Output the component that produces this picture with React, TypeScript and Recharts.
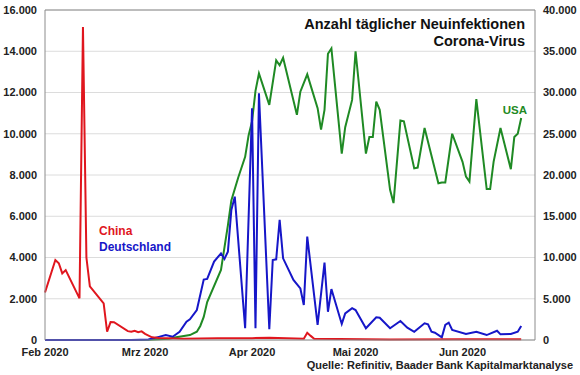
import React from "react";
import {
  LineChart,
  Line,
  XAxis,
  YAxis,
  CartesianGrid,
  ReferenceLine,
} from "recharts";

// day index 0 = 1. Feb 2020; values at line vertices
const chinaPts: [number, number][] = [
  [0, 2300], [3, 3880], [4, 3720], [5, 3230], [6, 3390], [10, 2020],
  [11, 15170], [12, 4000], [13, 2600], [17, 1780], [18, 400], [19, 870],
  [20, 860], [24, 430], [25, 400], [26, 450], [27, 380], [28, 420],
  [29, 300], [31, 130], [33, 100], [40, 60], [50, 80], [60, 90], [65, 110],
  [70, 80], [75, 60], [76, 350], [77, 200], [78, 60], [100, 30], [120, 40],
  [138, 40],
];

const germanyPts: [number, number][] = [
  [0, 0], [25, 0], [30, 20], [33, 150], [35, 240], [37, 160], [39, 400],
  [41, 890], [42, 1000], [44, 1450], [46, 2930], [47, 2960], [49, 3800],
  [51, 4200], [52, 3930], [53, 4280], [54, 6300], [55, 6950], [58, 570],
  [60, 11230], [61, 570], [62, 11960], [65, 520], [66, 3880], [67, 3910],
  [68, 5820], [69, 3960], [72, 2910], [74, 2500], [75, 1700], [76, 5010],
  [79, 730], [81, 3750], [82, 1370], [83, 2470], [86, 780], [87, 1290],
  [89, 1540], [90, 1450], [93, 570], [96, 1100], [97, 1080], [100, 570],
  [103, 920], [105, 600], [107, 400], [110, 810], [111, 760], [112, 400],
  [113, 350], [115, 130], [116, 730], [117, 840], [118, 485], [122, 290],
  [125, 400], [128, 240], [131, 450], [132, 275], [135, 290], [137, 400],
  [138, 680],
];

const usaPts: [number, number][] = [
  [0, 0], [30, 20], [36, 150], [38, 330], [42, 600], [44, 1000], [45, 1700],
  [46, 2800], [47, 4600], [51, 8500], [53, 13900], [54, 16900], [56, 19700],
  [58, 22200], [59, 24800], [60, 26500], [61, 30200], [62, 32300],
  [65, 28500], [67, 33900], [68, 33300], [69, 34200], [73, 27300],
  [74, 30100], [76, 32200], [79, 28100], [80, 25500], [81, 27900], [82, 34700],
  [83, 35350], [86, 22600], [87, 25800], [89, 29100], [90, 35000],
  [93, 22600], [94, 24600], [95, 24600], [96, 28900], [97, 27900],
  [100, 18200], [101, 16600], [103, 26600], [104, 26500], [107, 20800],
  [108, 20900], [110, 25700], [114, 19000], [115, 19100], [116, 19100],
  [118, 25000], [121, 21600], [122, 19800], [123, 19200], [125, 29200],
  [128, 18300], [129, 18300], [130, 21600], [132, 25700], [135, 20700],
  [136, 24600], [137, 25000], [138, 26900],
];

const monthTicks = [0, 29, 60, 90, 121];
const monthLabels = ["Feb 2020", "Mrz 2020", "Apr 2020", "Mai 2020", "Jun 2020"];
const leftTicks = [0, 2000, 4000, 6000, 8000, 10000, 12000, 14000, 16000];
const rightTicks = [0, 5000, 10000, 15000, 20000, 25000, 30000, 35000, 40000];

const FONT = "'Liberation Sans', Arial, sans-serif";
const fmt = (v: number) => v.toLocaleString("de-DE");
const toRows = (pts: [number, number][]) => pts.map(([d, v]) => ({ d, v }));

const tickStyle = { fontSize: 11, fontWeight: 700, fill: "#222", fontFamily: FONT };

export default function App() {
  return (
    <div style={{ position: "absolute", left: 0, top: 0, width: 580, height: 375, background: "#fff", fontFamily: FONT }}>
      <LineChart width={580} height={375} margin={{ top: 10, right: 0, left: 0, bottom: 0 }}>
        <CartesianGrid vertical={false} stroke="#dcdcdc" yAxisId="left" />
        <XAxis
          type="number"
          dataKey="d"
          domain={[0, 142]}
          ticks={monthTicks}
          tickFormatter={(v) => monthLabels[monthTicks.indexOf(v)] ?? ""}
          tickLine={false}
          axisLine={{ stroke: "#8c8c8c" }}
          tick={tickStyle}
          height={35}
          allowDuplicatedCategory={false}
        />
        <YAxis
          yAxisId="left"
          domain={[0, 16000]}
          ticks={leftTicks}
          tickFormatter={fmt}
          tickLine={false}
          axisLine={{ stroke: "#8c8c8c" }}
          tick={tickStyle}
          width={45}
        />
        <YAxis
          yAxisId="right"
          orientation="right"
          domain={[0, 40000]}
          ticks={rightTicks}
          tickFormatter={fmt}
          tickLine={false}
          axisLine={{ stroke: "#8c8c8c" }}
          tick={tickStyle}
          width={45}
        />
        <ReferenceLine yAxisId="left" y={16000} stroke="#8c8c8c" />
        <Line
          yAxisId="right"
          data={toRows(usaPts)}
          dataKey="v"
          type="linear"
          stroke="#1f8a24"
          strokeWidth={2}
          dot={false}
          isAnimationActive={false}
        />
        <Line
          yAxisId="left"
          data={toRows(germanyPts)}
          dataKey="v"
          type="linear"
          stroke="#1616c8"
          strokeWidth={2}
          dot={false}
          isAnimationActive={false}
        />
        <Line
          yAxisId="left"
          data={toRows(chinaPts)}
          dataKey="v"
          type="linear"
          stroke="#e0161e"
          strokeWidth={2}
          dot={false}
          isAnimationActive={false}
        />
      </LineChart>

      <div style={{ position: "absolute", right: 55, top: 16, textAlign: "right", fontSize: 14.5, fontWeight: 700, lineHeight: "17px", color: "#111" }}>
        Anzahl täglicher Neuinfektionen
        <br />
        Corona-Virus
      </div>
      <div style={{ position: "absolute", left: 99, top: 223, fontSize: 12, fontWeight: 700, color: "#e0161e", lineHeight: "16px" }}>
        China
      </div>
      <div style={{ position: "absolute", left: 99, top: 239, fontSize: 12, fontWeight: 700, color: "#1616c8", lineHeight: "16px" }}>
        Deutschland
      </div>
      <div style={{ position: "absolute", right: 53, top: 102, fontSize: 11.5, fontWeight: 700, color: "#1f8a24", lineHeight: "16px" }}>
        USA
      </div>
      <div style={{ position: "absolute", right: 7, top: 357, fontSize: 11, fontWeight: 700, color: "#222", lineHeight: "16px" }}>
        Quelle: Refinitiv, Baader Bank Kapitalmarktanalyse
      </div>
    </div>
  );
}
